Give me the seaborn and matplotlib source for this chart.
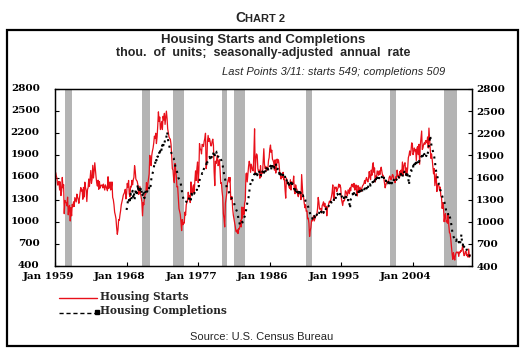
import matplotlib
matplotlib.use('Agg')
import matplotlib.pyplot as plt
from matplotlib.lines import Line2D
from matplotlib.patches import Rectangle
from matplotlib.transforms import ScaledTranslation
import seaborn as sns
import pandas as pd

# housing starts, thousands SAAR, monthly Jan 1959 - Mar 2011
starts = [
    1657, 1667, 1620, 1590, 1498, 1503, 1547, 1430, 1540, 1355, 1416, 1601,
    1460, 1503, 1109, 1289, 1266, 1260, 1215, 1334, 1094, 1195, 1222, 1010,
    1190, 1080, 1235, 1203, 1271, 1208, 1328, 1296, 1269, 1375, 1335, 1305,
    1250, 1330, 1403, 1463, 1417, 1434, 1305, 1466, 1336, 1537, 1466, 1421,
    1274, 1437, 1462, 1580, 1478, 1585, 1695, 1521, 1577, 1765, 1593, 1686,
    1800, 1698, 1602, 1522, 1484, 1563, 1440, 1545, 1456, 1494, 1490, 1500,
    1460, 1510, 1470, 1430, 1500, 1480, 1450, 1420, 1610, 1450, 1480, 1540,
    1430, 1470, 1540, 1330, 1300, 1230, 1130, 1090, 1040, 920, 830, 890,
    1030, 1020, 1090, 1150, 1230, 1270, 1310, 1360, 1380, 1400, 1440, 1310,
    1380, 1520, 1470, 1560, 1380, 1340, 1480, 1470, 1560, 1500, 1570, 1600,
    1760, 1690, 1580, 1560, 1550, 1500, 1370, 1380, 1480, 1390, 1330, 1270,
    1080, 1260, 1230, 1330, 1370, 1380, 1530, 1410, 1510, 1580, 1650, 1900,
    1800, 1760, 1900, 1960, 2000, 2070, 2160, 2130, 2200, 2060, 2150, 2300,
    2490, 2360, 2420, 2250, 2300, 2360, 2250, 2430, 2380, 2470, 2320, 2410,
    2500, 2400, 2260, 2200, 2150, 2130, 2120, 2050, 1900, 1720, 1700, 1580,
    1530, 1790, 1700, 1620, 1470, 1480, 1320, 1180, 1140, 1100, 1000, 880,
    1030, 960, 990, 980, 1130, 1090, 1230, 1260, 1290, 1400, 1330, 1350,
    1260, 1540, 1430, 1380, 1470, 1500, 1390, 1560, 1690, 1560, 1720, 1810,
    1530, 1700, 2060, 1980, 1980, 1920, 2050, 2040, 2020, 2090, 2130, 2200,
    1720, 1800, 2090, 2170, 2090, 2130, 2090, 2030, 2030, 2090, 2120, 2040,
    1680, 1490, 1820, 1790, 1850, 1900, 1760, 1780, 1840, 1700, 1520, 1530,
    1410, 1330, 1110, 1040, 930, 1250, 1310, 1380, 1510, 1560, 1600, 1540,
    1600, 1300, 1330, 1340, 1180, 1090, 1040, 980, 930, 870, 860, 890,
    840, 910, 900, 940, 1020, 930, 1200, 1050, 1190, 1100, 1250, 1290,
    1650, 1660, 1540, 1640, 1750, 1820, 1780, 1670, 1780, 1740, 1700, 1690,
    1930, 2260, 1660, 1850, 1920, 1900, 1720, 1680, 1700, 1590, 1760, 1610,
    1680, 1660, 1810, 1990, 1780, 1720, 1750, 1690, 1730, 1710, 1830, 1870,
    1990, 2040, 1940, 1970, 1850, 1830, 1800, 1700, 1840, 1660, 1740, 1850,
    1800, 1840, 1780, 1670, 1630, 1580, 1610, 1600, 1670, 1570, 1580, 1440,
    1320, 1590, 1540, 1520, 1530, 1470, 1450, 1570, 1430, 1540, 1530, 1520,
    1620, 1420, 1380, 1500, 1450, 1440, 1370, 1340, 1400, 1380, 1400, 1300,
    1640, 1480, 1340, 1330, 1250, 1190, 1230, 1140, 1150, 1040, 1050, 980,
    800, 880, 920, 1020, 1010, 1030, 1080, 1010, 1040, 1070, 1080, 1100,
    1180, 1330, 1270, 1170, 1180, 1180, 1120, 1220, 1240, 1270, 1210, 1250,
    1170, 1210, 1080, 1190, 1200, 1250, 1280, 1260, 1300, 1340, 1400, 1500,
    1330, 1290, 1470, 1460, 1470, 1410, 1440, 1460, 1510, 1470, 1500, 1460,
    1310, 1260, 1220, 1290, 1280, 1300, 1420, 1410, 1380, 1350, 1430, 1430,
    1380, 1460, 1420, 1490, 1510, 1480, 1470, 1520, 1430, 1450, 1500, 1380,
    1350, 1490, 1460, 1400, 1470, 1440, 1410, 1460, 1490, 1500, 1520, 1560,
    1520, 1580, 1600, 1560, 1540, 1590, 1680, 1610, 1570, 1700, 1630, 1760,
    1800, 1670, 1730, 1540, 1620, 1600, 1690, 1660, 1630, 1690, 1640, 1700,
    1740, 1680, 1630, 1630, 1590, 1520, 1460, 1500, 1530, 1550, 1540, 1530,
    1600, 1620, 1590, 1570, 1600, 1640, 1630, 1570, 1560, 1530, 1610, 1570,
    1700, 1630, 1620, 1590, 1680, 1620, 1700, 1640, 1810, 1630, 1750, 1790,
    1800, 1630, 1730, 1640, 1730, 1870, 1900, 1960, 1900, 1960, 2070, 2060,
    1910, 1940, 2000, 1960, 1980, 1830, 2000, 2020, 1910, 2050, 1780, 2040,
    2140, 2230, 1980, 2000, 2050, 2070, 2050, 2100, 2100, 2070, 2150, 2000,
    2270, 2120, 1990, 1860, 1920, 1840, 1740, 1650, 1720, 1490, 1570, 1650,
    1410, 1500, 1500, 1490, 1430, 1470, 1350, 1330, 1180, 1260, 1190, 1000,
    1080, 1110, 1000, 1010, 980, 1110, 950, 850, 840, 760, 650, 560,
    490, 580, 520, 480, 550, 580, 590, 580, 590, 530, 590, 580,
    610, 600, 630, 680, 590, 540, 550, 600, 600, 540, 550, 520,
    630, 520, 549,
]

# housing completions, thousands SAAR, monthly Jan 1968 - Mar 2011
completions = [
    1160, 1220, 1280, 1250, 1330, 1290, 1380, 1300, 1350, 1420, 1340, 1400,
    1300, 1380, 1450, 1350, 1420, 1510, 1400, 1480, 1400, 1450, 1380, 1430,
    1360, 1330, 1400, 1320, 1380, 1430, 1390, 1410, 1440, 1420, 1460, 1500,
    1470, 1560, 1620, 1650, 1680, 1720, 1800, 1780, 1860, 1830, 1900, 1880,
    1920, 1950, 1900, 1990, 2010, 1960, 2040, 2000, 2080, 2060, 2110, 2100,
    2150, 2220, 2170, 2080, 2050, 2000, 1990, 1950, 1920, 1900, 1870, 1860,
    1820, 1780, 1720, 1700, 1680, 1650, 1600, 1580, 1560, 1540, 1500, 1440,
    1380, 1340, 1300, 1290, 1280, 1260, 1270, 1290, 1300, 1330, 1310, 1340,
    1350, 1300, 1380, 1360, 1390, 1400, 1380, 1420, 1440, 1450, 1430, 1480,
    1500, 1480, 1560, 1590, 1600, 1620, 1660, 1650, 1700, 1730, 1760, 1780,
    1790, 1750, 1820, 1830, 1850, 1880, 1860, 1900, 1870, 1920, 1900, 1930,
    1960, 1900, 1940, 1920, 1950, 1940, 1880, 1900, 1880, 1870, 1850, 1830,
    1800, 1760, 1700, 1650, 1600, 1560, 1520, 1460, 1440, 1430, 1410, 1390,
    1380, 1360, 1330, 1310, 1300, 1270, 1260, 1220, 1200, 1170, 1150, 1130,
    1080, 1020, 990, 960, 980, 1000, 1010, 990, 1030, 1050, 1070, 1090,
    1150, 1200, 1250, 1280, 1330, 1400, 1470, 1520, 1560, 1580, 1560, 1600,
    1620, 1650, 1610, 1640, 1680, 1630, 1660, 1650, 1690, 1640, 1610, 1660,
    1640, 1680, 1700, 1650, 1720, 1700, 1660, 1740, 1700, 1720, 1690, 1710,
    1720, 1760, 1700, 1780, 1750, 1790, 1770, 1730, 1760, 1790, 1740, 1700,
    1720, 1680, 1650, 1700, 1640, 1660, 1620, 1680, 1640, 1600, 1630, 1610,
    1560, 1540, 1580, 1520, 1560, 1500, 1540, 1510, 1530, 1480, 1520, 1500,
    1470, 1440, 1480, 1420, 1450, 1400, 1430, 1390, 1420, 1380, 1400, 1370,
    1380, 1350, 1360, 1320, 1300, 1310, 1280, 1260, 1240, 1220, 1200, 1180,
    1140, 1100, 1080, 1060, 1040, 1070, 1050, 1080, 1060, 1090, 1070, 1100,
    1080, 1110, 1100, 1140, 1120, 1150, 1130, 1160, 1140, 1120, 1170, 1150,
    1160, 1180, 1170, 1200, 1190, 1220, 1240, 1230, 1270, 1260, 1290, 1300,
    1280, 1310, 1330, 1300, 1350, 1340, 1380, 1360, 1350, 1390, 1370, 1400,
    1360, 1330, 1310, 1290, 1330, 1320, 1300, 1340, 1310, 1330, 1290, 1310,
    1250, 1180, 1300, 1320, 1360, 1380, 1340, 1390, 1370, 1400, 1360, 1380,
    1400, 1380, 1410, 1370, 1420, 1400, 1390, 1430, 1410, 1440, 1420, 1450,
    1430, 1470, 1450, 1490, 1460, 1500, 1480, 1510, 1490, 1530, 1520, 1540,
    1520, 1500, 1560, 1530, 1580, 1550, 1600, 1570, 1610, 1590, 1620, 1600,
    1590, 1610, 1580, 1560, 1600, 1570, 1540, 1560, 1530, 1550, 1520, 1540,
    1500, 1530, 1510, 1550, 1520, 1560, 1540, 1570, 1550, 1580, 1560, 1570,
    1590, 1570, 1610, 1600, 1640, 1620, 1650, 1630, 1600, 1660, 1640, 1680,
    1660, 1620, 1650, 1600, 1640, 1580, 1500, 1620, 1660, 1700, 1690, 1730,
    1760, 1720, 1780, 1750, 1800, 1770, 1820, 1790, 1830, 1810, 1850, 1840,
    1860, 1890, 1850, 1910, 1880, 1920, 1900, 1930, 1890, 1940, 1920, 1960,
    2040, 2100, 2170, 2080, 2030, 1980, 1960, 1920, 1880, 1820, 1740, 1680,
    1640, 1600, 1550, 1510, 1480, 1440, 1410, 1380, 1350, 1320, 1300, 1280,
    1240, 1200, 1150, 1120, 1130, 1100, 1060, 1080, 1050, 1000, 950, 880,
    820, 800, 780, 760, 770, 740, 760, 730, 750, 720, 740, 700,
    760, 830, 700, 680, 720, 660, 650, 640, 660, 620, 610, 600,
    580, 560, 509,
]

# NBER recessions (shaded)
rec_start = ['1960-04-01', '1969-12-01', '1973-11-01', '1980-01-01',
             '1981-07-01', '1990-07-01', '2001-03-01', '2007-12-01']
rec_end = ['1961-03-01', '1970-12-01', '1975-04-01', '1980-08-01',
           '1982-12-01', '1991-04-01', '2001-12-01', '2009-07-01']

tick_years = [1959, 1968, 1977, 1986, 1995, 2004]
y_ticks = [400, 700, 1000, 1300, 1600, 1900, 2200, 2500, 2800]

sns.set_style('white')
plt.rcParams['font.family'] = ['Liberation Sans', 'DejaVu Sans']

starts_df = pd.DataFrame({'date': pd.date_range('1959-01-01', periods=len(starts), freq='MS'),
                          'value': starts})
comp_df = pd.DataFrame({'date': pd.date_range('1968-01-01', periods=len(completions), freq='MS'),
                        'value': completions})

W, H = 526, 363
fig = plt.figure(figsize=(W / 100, H / 100), dpi=100)
ax = fig.add_axes([55 / W, 1 - 266 / H, (472 - 55) / W, (266 - 89) / H])

for a, b in zip(rec_start, rec_end):
    ax.axvspan(pd.Timestamp(a), pd.Timestamp(b), color='#b4b4b4', lw=0, zorder=0)

sns.lineplot(data=starts_df, x='date', y='value', ax=ax, color='#e8101a', lw=0.9, zorder=2)
sns.lineplot(data=comp_df, x='date', y='value', ax=ax, color='black', lw=1.5,
             linestyle=(0, (1, 2.2)), zorder=3)

ax.set_xlim(pd.Timestamp('1959-01-01'), pd.Timestamp('2011-06-01'))
ax.set_ylim(400, 2800)
ax.set_xlabel('')
ax.set_ylabel('')
ax.set_yticks(y_ticks)
ax.set_xticks([pd.Timestamp(f'{y}-01-01') for y in tick_years])
ax.set_xticklabels([f'Jan {y}' for y in tick_years])

tick_font = dict(family='DejaVu Serif', weight='bold', size=7.5)
ax.tick_params(direction='in', length=3, width=0.8, colors='black', top=False, bottom=True,
               left=True)
ax.tick_params(axis='y', pad=11)
ax.tick_params(axis='x', pad=4)
for lbl in ax.get_xticklabels():
    lbl.set(**tick_font)
    lbl.set_transform(lbl.get_transform() + ScaledTranslation(-7 / 100, 0, fig.dpi_scale_trans))
for lbl in ax.get_yticklabels():
    lbl.set(**tick_font)
    lbl.set_transform(lbl.get_transform() + ScaledTranslation(0, 1.5 / 100, fig.dpi_scale_trans))

ax2 = ax.twinx()
ax2.set_ylim(400, 2800)
ax2.set_yticks(y_ticks)
ax2.tick_params(direction='in', length=3, width=0.8, pad=3, colors='black')
for lbl in ax2.get_yticklabels():
    lbl.set(**tick_font)

for a_ in (ax, ax2):
    for s in a_.spines.values():
        s.set_color('black')
        s.set_linewidth(0.9)

# outer frame
fig.add_artist(Rectangle((7 / W, 1 - 346 / H), (518 - 7) / W, (346 - 30) / H,
                         transform=fig.transFigure, fill=False, lw=1.6, ec='black'))

# chart number in small caps
fig.text(245 / W, 1 - 22 / H, 'C', ha='right', va='baseline', weight='bold', size=10)
fig.text(245 / W, 1 - 22 / H, 'HART 2', ha='left', va='baseline', weight='bold', size=8)

fig.text(263 / W, 1 - 40 / H, 'Housing Starts and Completions', ha='center', va='center',
         weight='bold', size=9.5)
fig.text(263 / W, 1 - 53 / H, 'thou.  of  units;  seasonally-adjusted  annual  rate',
         ha='center', va='center', weight='bold', size=9)
fig.text(445 / W, 1 - 72 / H, 'Last Points 3/11: starts 549; completions 509', ha='right',
         va='center', style='italic', size=8)

# legend
fig.add_artist(Line2D([59 / W, 97 / W], [1 - 298 / H, 1 - 298 / H], color='#e8101a', lw=1,
                      transform=fig.transFigure))
fig.add_artist(Line2D([59 / W, 96 / W], [1 - 313 / H, 1 - 313 / H], color='black', lw=1,
                      linestyle=(0, (3, 2)), transform=fig.transFigure))
fig.add_artist(Line2D([97 / W], [1 - 312 / H], color='black', marker='s', markersize=2.5,
                      transform=fig.transFigure))
legend_font = dict(family='DejaVu Serif', weight='bold', size=7.6)
fig.text(100 / W, 1 - 296 / H, 'Housing Starts', ha='left', va='center', **legend_font)
fig.text(100 / W, 1 - 311 / H, 'Housing Completions', ha='left', va='center', **legend_font)

fig.text(262 / W, 1 - 337 / H, 'Source: U.S. Census Bureau', ha='center', va='center', size=8)

fig.savefig('out.png', dpi=100)
